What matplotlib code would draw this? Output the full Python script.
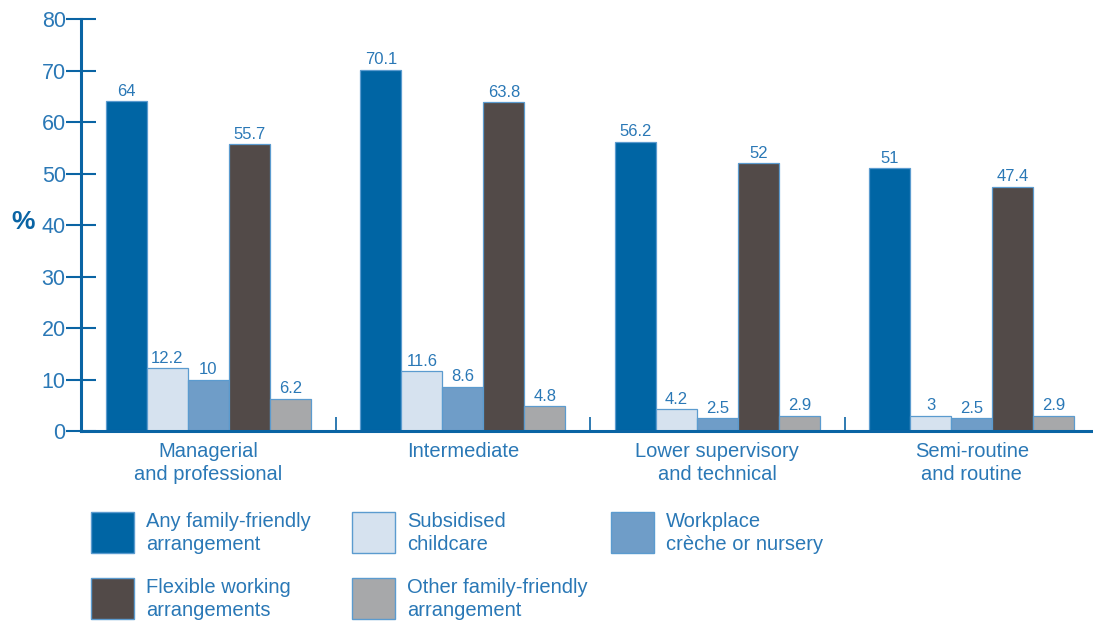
import matplotlib
matplotlib.use("Agg")
import matplotlib.pyplot as plt
from matplotlib.patches import Rectangle
import numpy as np

categories = ["Managerial\nand professional", "Intermediate",
              "Lower supervisory\nand technical", "Semi-routine\nand routine"]
series_names = ["Any family-friendly\narrangement", "Subsidised\nchildcare",
                "Workplace\ncrèche or nursery", "Flexible working\narrangements",
                "Other family-friendly\narrangement"]
any_ff = [64, 70.1, 56.2, 51]
subsidised = [12.2, 11.6, 4.2, 3]
workplace = [10, 8.6, 2.5, 2.5]
flexible = [55.7, 63.8, 52, 47.4]
other = [6.2, 4.8, 2.9, 2.9]
value_labels = [["64", "70.1", "56.2", "51"],
                ["12.2", "11.6", "4.2", "3"],
                ["10", "8.6", "2.5", "2.5"],
                ["55.7", "63.8", "52", "47.4"],
                ["6.2", "4.8", "2.9", "2.9"]]
yticks = [0, 10, 20, 30, 40, 50, 60, 70, 80]

colors = ["#0065a4", "#d6e2ef", "#6f9dc8", "#524a48", "#a7a8aa"]
edge = "#5b9bcf"
text_c = "#2a78b6"
axis_c = "#0a64a4"

plt.rcParams['font.family'] = ['Liberation Sans', 'DejaVu Sans']

fig = plt.figure(figsize=(10.93, 6.23), dpi=100)
ax = fig.add_axes([81/1093, 192/623, 1012/1093, 412/623])

series = [any_ff, subsidised, workplace, flexible, other]
x = np.arange(len(categories))
w = 0.161
for i, (vals, col) in enumerate(zip(series, colors)):
    pos = x + (i - 2) * w
    ax.bar(pos, vals, width=w, color=col, edgecolor=edge, linewidth=0.9, zorder=2)
    for p, v, lab in zip(pos, vals, value_labels[i]):
        ax.text(p, v + 0.5, lab, ha="center", va="bottom", fontsize=12, color=text_c)

ax.set_xlim(-0.5, 3.476)
ax.set_ylim(0, 80)
ax.set_yticks(yticks)
ax.set_yticklabels([str(t) for t in yticks], fontsize=15.5, color=text_c)
ax.tick_params(axis="y", direction="inout", length=22, width=1.5, color=axis_c, pad=0)

ax.set_xticks([0.5, 1.5, 2.5])
ax.set_xticklabels([])
ax.tick_params(axis="x", direction="in", length=10, width=1.2, color=axis_c)
for xi, c in zip(x, categories):
    ax.text(xi, -2.2, c, ha="center", va="top", fontsize=14.5, color=text_c,
            linespacing=1.25)

for s in ["top", "right"]:
    ax.spines[s].set_visible(False)
for s in ["left", "bottom"]:
    ax.spines[s].set_color(axis_c)
    ax.spines[s].set_linewidth(2.2)

fig.text(23/1093, 1 - 222/623, "%", fontsize=19, fontweight="bold", color=axis_c,
         ha="center", va="center")

# Legend
leg_pos = [(91, 512), (352, 512), (611, 512), (91, 578), (352, 578)]
for (px, py), name, col in zip(leg_pos, series_names, colors):
    fig.add_artist(Rectangle((px/1093, 1 - (py + 41)/623), 43/1093, 41/623,
                             transform=fig.transFigure, facecolor=col,
                             edgecolor=edge, linewidth=1.0))
    fig.text((px + 55)/1093, 1 - (py + 21)/623, name, fontsize=14.5, color=text_c,
             ha="left", va="center", linespacing=1.25)

fig.savefig("out.png", dpi=100)
